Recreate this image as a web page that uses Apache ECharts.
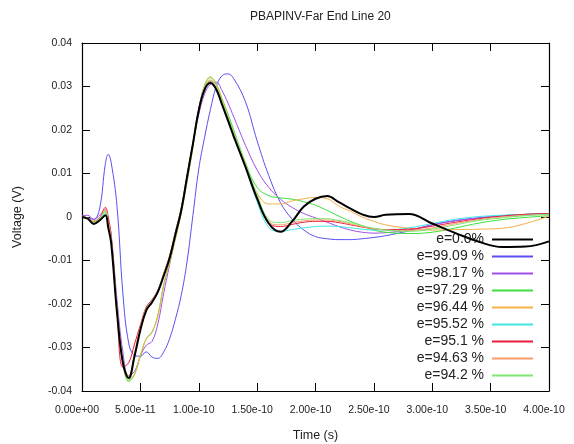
<!DOCTYPE html>
<html>
<head>
<meta charset="utf-8">
<script src="https://cdn.jsdelivr.net/npm/echarts@6/dist/echarts.min.js"></script>
<style>
html,body{margin:0;padding:0;background:#fff;}
#chart{width:574px;height:444px;}
</style>
</head>
<body>
<div id="chart"></div>
<script>
// time in units of 1e-11 s
var timeSteps = [0, 0.5, 1, 1.5, 2, 2.25, 2.5, 3, 3.5, 4, 4.5, 5, 5.5, 6, 6.5, 7, 7.5, 8, 8.5, 9, 9.5, 10, 10.5, 11, 11.5, 12, 12.5, 13,
  14, 15, 16, 17, 18, 19, 20, 21, 22, 23, 24, 25, 26,
  28, 30, 32, 34, 36, 38, 40];

var seriesNames = ['e=0.0%', 'e=99.09 %', 'e=98.17 %', 'e=97.29 %', 'e=96.44 %', 'e=95.52 %', 'e=95.1 %', 'e=94.63 %', 'e=94.2 %'];

var e0 = [0, -0.0004, -0.0016, -0.0008, 0.0004, -0.0025, -0.006, -0.022, -0.0335, -0.037, -0.032, -0.026, -0.0215, -0.0196, -0.0172, -0.0135, -0.0095, -0.004, 0.0015, 0.0092, 0.0168, 0.0245, 0.0293, 0.0308, 0.0293, 0.0258, 0.0222, 0.0185,
  0.0115, 0.0042, -0.0015, -0.0034, -0.001, 0.0024, 0.0042, 0.0048, 0.0034, 0.0019, 0.0006, 0.0, 0.0005,
  0.0007, -0.0015, -0.0037, -0.0057, -0.0069, -0.0068, -0.0056];

var e9909 = [0, -0.0002, -0.0005, 0.0018, 0.0122, 0.0144, 0.0125, 0.0024, -0.0175, -0.029, -0.0318, -0.032, -0.031, -0.0322, -0.0325, -0.031, -0.028, -0.0235, -0.018, -0.0102, 0.0004, 0.011, 0.0183, 0.0247, 0.030, 0.0325, 0.0329, 0.0318,
  0.0265, 0.0175, 0.0095, 0.0033, -0.0005, -0.003, -0.0045, -0.005, -0.0052, -0.0052, -0.005, -0.0047, -0.0043,
  -0.0032, -0.0018, -0.0008, -0.0002, 0.0003, 0.0006, 0.0008];

var e9817 = [0.0003, 0.0004, -0.0006, 0.0004, 0.0018, -0.0008, -0.004, -0.019, -0.031, -0.0365, -0.0355, -0.032, -0.0295, -0.0286, -0.0245, -0.0175, -0.011, -0.0045, 0.002, 0.0095, 0.0168, 0.0235, 0.0283, 0.0305, 0.031, 0.029, 0.0262, 0.023,
  0.0165, 0.0108, 0.0068, 0.0041, 0.0022, 0.0008, -0.0002, -0.0012, -0.0022, -0.003, -0.0035, -0.0037, -0.0036,
  -0.003, -0.0018, -0.0009, -0.0002, 0.0003, 0.0006, 0.0008];

var e9729 = [0, -0.0003, -0.001, -0.0002, 0.0012, -0.0015, -0.005, -0.021, -0.0335, -0.0378, -0.0362, -0.032, -0.028, -0.0265, -0.0225, -0.0155, -0.0105, -0.005, 0.001, 0.0082, 0.016, 0.0245, 0.0303, 0.0322, 0.0305, 0.0272, 0.0237, 0.020,
  0.0125, 0.0068, 0.0049, 0.0044, 0.0041, 0.0035, 0.0027, 0.0015, 0.0002, -0.001, -0.002, -0.003, -0.0035,
  -0.0038, -0.0035, -0.0025, -0.0014, -0.0006, -0.0001, 0.0003];

var e9644 = [0, -0.0003, -0.0009, -0.0001, 0.0015, -0.001, -0.0045, -0.0205, -0.033, -0.0375, -0.036, -0.0318, -0.028, -0.0263, -0.0228, -0.0158, -0.0105, -0.005, 0.001, 0.0082, 0.016, 0.0245, 0.0302, 0.032, 0.0303, 0.027, 0.0232, 0.0195,
  0.012, 0.0055, 0.003, 0.003, 0.0037, 0.0042, 0.0045, 0.0042, 0.0025, 0.0013, 0.0, -0.001, -0.0018,
  -0.0026, -0.003, -0.0029, -0.0028, -0.0026, -0.0015, 0.0002];

var e9552 = [0, -0.0003, -0.0013, -0.0005, 0.0008, -0.002, -0.0055, -0.0215, -0.0332, -0.0368, -0.0315, -0.0255, -0.021, -0.0192, -0.0168, -0.013, -0.009, -0.0035, 0.002, 0.0095, 0.017, 0.0248, 0.0296, 0.031, 0.0295, 0.026, 0.0224, 0.0188,
  0.0118, 0.0035, -0.0024, -0.0033, -0.0029, -0.0025, -0.0022, -0.0021, -0.0022, -0.0025, -0.0028, -0.003, -0.003,
  -0.0025, -0.0015, -0.0005, 0.0001, 0.0004, 0.0006, 0.0008];

var e951 = [0, -0.0002, -0.0011, -0.0002, 0.0022, 0.0, -0.0045, -0.022, -0.0345, -0.0335, -0.0292, -0.0248, -0.0207, -0.019, -0.0168, -0.013, -0.009, -0.0035, 0.002, 0.0095, 0.017, 0.0248, 0.0297, 0.0312, 0.0296, 0.0262, 0.0226, 0.019,
  0.012, 0.0045, -0.0013, -0.0022, -0.0017, -0.0012, -0.001, -0.001, -0.0013, -0.0018, -0.0023, -0.0027, -0.0029,
  -0.0028, -0.0021, -0.0012, -0.0004, 0.0002, 0.0006, 0.0008];

var e9463 = [0, -0.0003, -0.0012, -0.0003, 0.0018, -0.001, -0.005, -0.021, -0.0333, -0.0365, -0.0312, -0.0253, -0.021, -0.0192, -0.0169, -0.013, -0.009, -0.0035, 0.002, 0.0093, 0.0168, 0.0247, 0.0298, 0.0313, 0.0297, 0.0263, 0.0227, 0.0192,
  0.0122, 0.0048, -0.001, -0.0018, -0.0013, -0.0009, -0.0007, -0.0007, -0.001, -0.0016, -0.0022, -0.0027, -0.003,
  -0.0031, -0.0025, -0.0015, -0.0006, 0.0, 0.0004, 0.0006];

var e942 = [0, -0.0003, -0.0012, -0.0003, 0.0012, -0.002, -0.0055, -0.0215, -0.0335, -0.0375, -0.0318, -0.0258, -0.0212, -0.0193, -0.017, -0.0132, -0.0092, -0.0037, 0.0018, 0.0092, 0.0168, 0.0247, 0.0299, 0.0315, 0.0299, 0.0266, 0.023, 0.0195,
  0.0125, 0.0052, -0.0006, -0.0013, -0.0008, -0.0005, -0.0004, -0.0004, -0.0008, -0.0013, -0.002, -0.0026, -0.003,
  -0.0033, -0.0028, -0.0018, -0.0008, -0.0002, 0.0003, 0.0006];

var seriesValues = [e0, e9909, e9817, e9729, e9644, e9552, e951, e9463, e942];
var seriesColors = ['#000000', '#5a4ff0', '#a050e8', '#3ce03c', '#f5b048', '#3ee6e6', '#ec1c3c', '#fa9c6c', '#7ee870'];

var FONT = '"Liberation Sans", Arial, sans-serif';

function fmtTime(v) {
  var s = (v * 1e-11).toExponential(2);
  return s.replace(/e([+-])(\d)$/, 'e$10$2');
}

var series = seriesValues.map(function (vals, i) {
  return {
    name: seriesNames[i],
    type: 'line',
    xAxisIndex: 0,
    yAxisIndex: 0,
    smooth: 0.4,
    symbol: 'none',
    z: i === 0 ? 5 : 3,
    color: seriesColors[i],
    lineStyle: { color: seriesColors[i], width: i === 0 ? 2 : 1 },
    data: timeSteps.map(function (t, k) { return [t, vals[k]]; })
  };
});

var frameLine = { show: true, onZero: false, lineStyle: { color: '#000', width: 1.2 } };
var tick = { show: true, inside: true, length: 8, lineStyle: { color: '#000', width: 1 } };

var chart = echarts.init(document.getElementById('chart'), null, { renderer: 'canvas' });
chart.setOption({
  animation: false,
  backgroundColor: '#fff',
  title: {
    text: 'PBAPINV-Far End Line 20',
    left: 245, top: 6,
    textStyle: { fontFamily: FONT, fontSize: 12, fontWeight: 'normal', color: '#222' }
  },
  legend: {
    orient: 'vertical',
    right: 35, top: 226,
    align: 'right',
    itemWidth: 41, itemHeight: 2, itemGap: 0,
    itemStyle: { opacity: 0 },
    textStyle: { fontFamily: FONT, fontSize: 14, lineHeight: 17, color: '#222', padding: [0, 3, 0, 0] },
    data: seriesNames
  },
  grid: { left: 82, right: 25, top: 43, bottom: 53, containLabel: false, outerBoundsMode: 'none' },
  xAxis: [{
    type: 'value', min: 0, max: 40, interval: 5, position: 'bottom',
    axisLine: frameLine, axisTick: tick, splitLine: { show: false },
    axisLabel: { formatter: fmtTime, fontFamily: FONT, fontSize: 10.5, color: '#222', margin: 14, padding: [0, 10, 0, 0] },
    name: 'Time (s)', nameLocation: 'middle', nameGap: 38,
    nameTextStyle: { fontFamily: FONT, fontSize: 12.5, color: '#222' }
  }, {
    type: 'value', min: 0, max: 40, interval: 5, position: 'top',
    axisLine: frameLine, axisTick: tick, splitLine: { show: false }, axisLabel: { show: false }
  }],
  yAxis: [{
    type: 'value', min: -0.04, max: 0.04, interval: 0.01, position: 'left',
    axisLine: frameLine, axisTick: tick, splitLine: { show: false },
    axisLabel: { fontFamily: FONT, fontSize: 10.5, color: '#222', margin: 10 },
    name: 'Voltage (V)', nameLocation: 'middle', nameGap: 58,
    nameTextStyle: { fontFamily: FONT, fontSize: 12.5, color: '#222' }
  }, {
    type: 'value', min: -0.04, max: 0.04, interval: 0.01, position: 'right',
    axisLine: frameLine, axisTick: tick, splitLine: { show: false }, axisLabel: { show: false }
  }],
  series: series
});
</script>
</body>
</html>
